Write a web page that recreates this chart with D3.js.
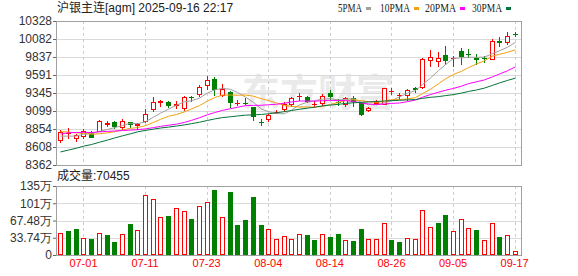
<!DOCTYPE html>
<html>
<head>
<meta charset="utf-8">
<script src="https://cdn.jsdelivr.net/npm/d3@7"></script>
<style>
  body { margin: 0; background: #fff; }
  svg { display: block; font-family: Arial, 'Liberation Sans', 'Noto Sans CJK SC', sans-serif; }
</style>
</head>
<body>
<svg id="chart" width="578" height="276"></svg>
<script>
// Daily K-line of 沪银主连, 06-26 .. 09-17
const dates = [
  '06-26', '06-27', '06-30', '07-01', '07-02', '07-03', '07-04', '07-07', '07-08', '07-09',
  '07-10', '07-11', '07-14', '07-15', '07-16', '07-17', '07-18', '07-21', '07-22', '07-23',
  '07-24', '07-25', '07-28', '07-29', '07-30', '07-31', '08-01', '08-04', '08-05', '08-06',
  '08-07', '08-08', '08-11', '08-12', '08-13', '08-14', '08-15', '08-18', '08-19', '08-20',
  '08-21', '08-22', '08-25', '08-26', '08-27', '08-28', '08-29', '09-01', '09-02', '09-03',
  '09-04', '09-05', '09-08', '09-09', '09-10', '09-11', '09-12', '09-15', '09-16', '09-17'
];
const opens = [
  8707, 8797, 8730, 8755, 8795, 8830, 8928, 8945, 8877, 8945,
  8905, 8965, 9127, 9222, 9218, 9182, 9140, 9296, 9331, 9460,
  9536, 9318, 9365, 9212, 9215, 9150, 8955, 8990, 9085, 9127,
  9195, 9305, 9287, 9193, 9208, 9345, 9225, 9190, 9280, 9210,
  9110, 9215, 9195, 9375, 9315, 9318, 9410, 9423, 9800, 9785,
  9864, 9818, 9915, 9880, 9825, 9825, 9810, 10050, 10045, 10148
];
const highs = [
  8840, 8867, 8785, 8853, 8830, 8976, 8963, 8967, 8990, 8950,
  8935, 9126, 9286, 9245, 9240, 9232, 9300, 9298, 9450, 9581,
  9559, 9468, 9370, 9250, 9272, 9160, 8990, 9058, 9117, 9222,
  9290, 9345, 9300, 9230, 9330, 9390, 9263, 9290, 9300, 9215,
  9150, 9250, 9420, 9409, 9345, 9400, 9430, 9820, 9936, 9900,
  9990, 9855, 9955, 9946, 9877, 9850, 10080, 10105, 10175, 10175
];
const lows = [
  8680, 8735, 8686, 8726, 8740, 8828, 8898, 8863, 8853, 8877,
  8853, 8955, 9105, 9172, 9150, 9140, 9110, 9240, 9300, 9400,
  9318, 9308, 9150, 9180, 9195, 8980, 8910, 8967, 9068, 9100,
  9170, 9253, 9225, 9150, 9180, 9263, 9180, 9165, 9170, 9040,
  9095, 9190, 9190, 9330, 9263, 9253, 9363, 9420, 9718, 9718,
  9740, 9718, 9745, 9840, 9740, 9770, 9805, 9990, 10015, 10120
];
const closes = [
  8817, 8797, 8770, 8826, 8750, 8960, 8930, 8892, 8967, 8915,
  8920, 9060, 9218, 9240, 9180, 9190, 9295, 9290, 9423, 9527,
  9395, 9405, 9225, 9215, 9210, 9028, 8950, 9045, 9090, 9195,
  9272, 9310, 9232, 9195, 9305, 9300, 9218, 9273, 9240, 9058,
  9135, 9220, 9409, 9378, 9318, 9390, 9400, 9810, 9832, 9822,
  9800, 9822, 9846, 9877, 9815, 9820, 10050, 10045, 10120, 10145
];
// closes of the 29 sessions before 06-26, only used for the moving averages
const earlierCloses = [
  8010, 8030, 8000, 8050, 8020, 8060, 8040, 8080, 8090, 8120,
  8450, 8700, 8790, 8800, 8760, 8820, 8790, 8830, 8800, 8790,
  8850, 8880, 8900, 8870, 8890, 8800, 8760, 8700, 8704
];
// volume, in 万 lots
const volumes = [
  42.8, 47.4, 51.3, 32.9, 31.6, 42.8, 39.5, 25.7, 40.8, 61.2,
  49.3, 117.8, 109.9, 74.3, 77.0, 92.1, 86.8, 71.0, 96.0, 104.0,
  126.3, 74.3, 122.4, 59.2, 69.0, 112.5, 59.2, 51.3, 31.6, 36.8,
  31.6, 40.8, 39.5, 29.6, 40.8, 35.5, 41.4, 29.6, 27.6, 51.3,
  31.6, 31.6, 62.5, 29.6, 25.7, 33.6, 31.6, 88.8, 54.6, 63.2,
  78.9, 47.4, 71.0, 53.3, 49.3, 29.6, 62.5, 35.5, 39.5, 7.0455
];
const priceTicks = [8362, 8608, 8854, 9099, 9345, 9591, 9837, 10082, 10328];
const volumeTicks = [0, 33.74, 67.48, 101.22, 134.96];
const volumeTickLabels = ['0', '33.74万', '67.48万', '101万', '135万'];
const dateTicks = ['07-01', '07-11', '07-23', '08-04', '08-14', '08-26', '09-05', '09-17'];
const maPeriods = [5, 10, 20, 30];

const maColors = ['#a0a0a0', '#f2a10c', '#ff00ff', '#06733a'];
const red = '#ff0000';
const green = '#008000';
const frameColor = '#a0a0a0';
const gridColor = '#dadada';

const left = 56;
const right = 521;
const svg = d3.select('#chart');

const x = d3.scaleBand().domain(dates).range([56.5, 518.5]);
const cx = d => Math.round(x(d) + x.bandwidth() / 2);
const y = d3.scaleLinear().domain([8362, 10328]).range([165, 21]);
const vy = d3.scaleLinear().domain([0, 134.96]).range([255, 186]);

// Watermark
svg.append('text')
  .attr('x', 242).attr('y', 106)
  .attr('font-size', 38).attr('font-weight', 'bold')
  .attr('font-family', "'Noto Sans CJK SC', sans-serif")
  .attr('fill', '#eaeaea')
  .text('东方财富');

// Grid lines
const grid = svg.append('g').attr('stroke', gridColor).attr('shape-rendering', 'crispEdges');
grid.selectAll('.hp').data(priceTicks).join('line')
  .attr('x1', left).attr('x2', right)
  .attr('y1', d => Math.round(y(d)) + 0.5).attr('y2', d => Math.round(y(d)) + 0.5);
grid.selectAll('.hv').data(volumeTicks).join('line')
  .attr('x1', left).attr('x2', right)
  .attr('y1', d => Math.round(vy(d)) + 0.5).attr('y2', d => Math.round(vy(d)) + 0.5);
[[y.range()[1], y.range()[0]], [vy.range()[1], vy.range()[0]]].forEach(([top, bottom]) => {
  grid.append('g').selectAll('line').data(dateTicks).join('line')
    .attr('x1', d => cx(d) + 0.5).attr('x2', d => cx(d) + 0.5)
    .attr('y1', top).attr('y2', bottom)
    .attr('stroke', '#cccccc')
    .attr('stroke-dasharray', '3,3');
});

// Panel frames
svg.append('rect')
  .attr('x', left + 0.5).attr('y', y.range()[1] + 0.5)
  .attr('width', right - left).attr('height', y.range()[0] - y.range()[1])
  .attr('fill', 'none').attr('stroke', frameColor);
svg.append('rect')
  .attr('x', left + 0.5).attr('y', vy.range()[1] + 0.5)
  .attr('width', right - left).attr('height', vy.range()[0] - vy.range()[1])
  .attr('fill', 'none').attr('stroke', frameColor);

// Axes
const styleAxis = g => {
  g.attr('font-family', 'Arial, sans-serif').attr('font-size', 12);
  g.select('.domain').attr('stroke', frameColor);
  g.selectAll('.tick line').attr('stroke', '#666');
  g.selectAll('.tick text').attr('fill', '#333');
};
svg.append('g')
  .attr('transform', `translate(${left},0)`)
  .call(d3.axisLeft(y).tickValues(priceTicks).tickSize(3).tickSizeOuter(0).tickPadding(1)
    .tickFormat(d3.format('d')))
  .call(styleAxis);
svg.append('g')
  .attr('transform', `translate(${left},0)`)
  .call(d3.axisLeft(vy).tickValues(volumeTicks).tickSize(3).tickSizeOuter(0).tickPadding(1)
    .tickFormat((d, i) => volumeTickLabels[i]))
  .call(styleAxis);
const xAxis = svg.append('g')
  .attr('transform', 'translate(0,259)')
  .call(d3.axisBottom(x).tickValues(dateTicks).tickSize(0).tickPadding(0));
xAxis.select('.domain').remove();
xAxis.attr('font-family', 'Arial, sans-serif').attr('font-size', 11);
xAxis.selectAll('.tick text').attr('fill', red);

// Candles
const bars = dates.map((d, i) => ({
  date: d, open: opens[i], high: highs[i], low: lows[i], close: closes[i],
  volume: volumes[i],
  prevClose: i === 0 ? earlierCloses[earlierCloses.length - 1] : closes[i - 1]
}));

const candles = svg.append('g').attr('shape-rendering', 'crispEdges')
  .selectAll('g').data(bars).join('g');
candles.append('line')
  .attr('x1', d => cx(d.date) + 0.5).attr('x2', d => cx(d.date) + 0.5)
  .attr('y1', d => Math.round(y(d.high))).attr('y2', d => Math.round(y(d.low)) + 1)
  .attr('stroke', d => d.close >= d.open ? red : green);
candles.each(function (d) {
  const g = d3.select(this);
  const up = d.close >= d.open;
  const top = Math.round(y(Math.max(d.open, d.close)));
  const bottom = Math.round(y(Math.min(d.open, d.close)));
  const c = cx(d.date);
  if (bottom - top < 1) {
    g.append('line')
      .attr('x1', c - 2).attr('x2', c + 3)
      .attr('y1', top + 0.5).attr('y2', top + 0.5)
      .attr('stroke', up ? red : green);
  } else if (up) {
    g.append('rect')
      .attr('x', c - 1.5).attr('width', 4)
      .attr('y', top + 0.5).attr('height', bottom - top)
      .attr('fill', '#fff').attr('stroke', red);
  } else {
    g.append('rect')
      .attr('x', c - 2).attr('width', 5)
      .attr('y', top).attr('height', bottom - top + 1)
      .attr('fill', green);
  }
});

// Moving averages
const allCloses = earlierCloses.concat(closes);
const offset = earlierCloses.length;
maPeriods.forEach((p, k) => {
  const values = bars.map((b, i) => ({
    date: b.date,
    value: d3.mean(allCloses.slice(i + offset - p + 1, i + offset + 1))
  }));
  svg.append('path')
    .datum(values)
    .attr('fill', 'none')
    .attr('stroke', maColors[k])
    .attr('stroke-width', 1)
    .attr('d', d3.line().x(d => cx(d.date) + 0.5).y(d => y(d.value)));
});

// Volume bars, coloured against the previous close
svg.append('g').attr('shape-rendering', 'crispEdges')
  .selectAll('rect').data(bars).join('rect')
  .each(function (d) {
    const top = Math.round(vy(d.volume));
    const c = cx(d.date);
    const bar = d3.select(this);
    if (d.close >= d.prevClose) {
      bar.attr('x', c - 1.5).attr('width', 4)
        .attr('y', top + 0.5).attr('height', Math.max(0, vy(0) - 1 - top))
        .attr('fill', '#fff').attr('stroke', red);
    } else {
      bar.attr('x', c - 2).attr('width', 5)
        .attr('y', top).attr('height', vy(0) - top)
        .attr('fill', green);
    }
  });

// Header texts
svg.append('text')
  .attr('x', 57).attr('y', 12)
  .attr('font-size', 12).attr('fill', '#222')
  .text('沪银主连[agm] 2025-09-16 22:17');

const legendX = [338, 380, 425, 472];
const legendW = [24, 30, 31, 30];
const legend = svg.append('g').selectAll('g').data(maPeriods).join('g')
  .attr('transform', (d, i) => `translate(${legendX[i]},0)`);
legend.append('text')
  .attr('y', 12).attr('font-size', 12).attr('fill', '#222')
  .attr('font-family', "'Liberation Serif', serif")
  .attr('textLength', (d, i) => legendW[i]).attr('lengthAdjust', 'spacingAndGlyphs')
  .text(d => `${d}PMA`);
legend.append('rect')
  .attr('x', (d, i) => legendW[i] + 4).attr('y', 7)
  .attr('width', 5).attr('height', 3)
  .attr('fill', (d, i) => maColors[i]);

svg.append('text')
  .attr('x', 57).attr('y', 180)
  .attr('font-size', 12).attr('fill', '#222')
  .text(`成交量:${Math.round(volumes[volumes.length - 1] * 10000)}`);
</script>
</body>
</html>
